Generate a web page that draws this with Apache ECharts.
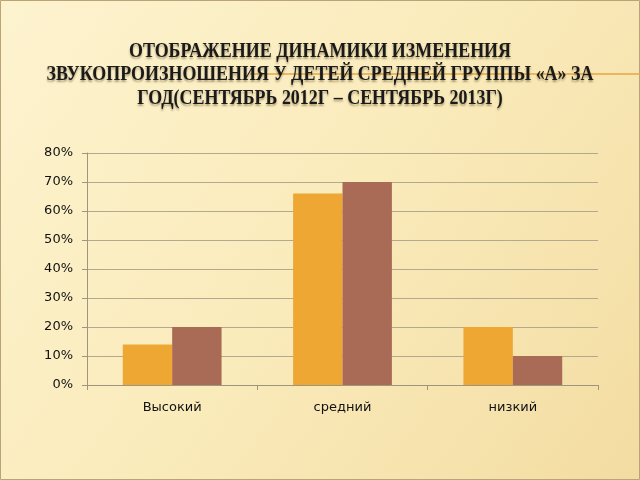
<!DOCTYPE html>
<html>
<head>
<meta charset="utf-8">
<script src="https://cdn.jsdelivr.net/npm/echarts@6/dist/echarts.min.js"></script>
<style>
html,body{margin:0;padding:0;}
#c{width:640px;height:480px;}
</style>
</head>
<body>
<div id="c"></div>
<script>
var titleLines = [
  'ОТОБРАЖЕНИЕ ДИНАМИКИ ИЗМЕНЕНИЯ',
  'ЗВУКОПРОИЗНОШЕНИЯ У ДЕТЕЙ СРЕДНЕЙ ГРУППЫ «А» ЗА',
  'ГОД(СЕНТЯБРЬ 2012Г – СЕНТЯБРЬ 2013Г)'
];
var categories = ['Высокий', 'средний', 'низкий'];
var series2012 = [14, 66, 20];
var series2013 = [20, 70, 10];
var yTicks = {min: 0, max: 80, interval: 10};

var chart = echarts.init(document.getElementById('c'));

var titleGraphics = titleLines.map(function (t, i) {
  return {
    type: 'text',
    x: 320,
    y: 51 + i * 23.5,
    scaleX: 0.835,
    z: 10,
    style: {
      text: t,
      fill: '#1a1a1a',
      font: 'bold 21.5px "Liberation Serif", "DejaVu Serif", serif',
      textAlign: 'center',
      textVerticalAlign: 'middle',
      textShadowColor: 'rgba(80,60,20,0.45)',
      textShadowBlur: 2,
      textShadowOffsetY: 2
    }
  };
});

chart.setOption({
  backgroundColor: new echarts.graphic.LinearGradient(0, 0, 1, 1, [
    {offset: 0, color: '#FDF3CF'},
    {offset: 0.5, color: '#FAEBBB'},
    {offset: 1, color: '#F3DCA2'}
  ]),
  graphic: [
    {
      type: 'line',
      z: 1,
      shape: {x1: 250, y1: 74, x2: 640, y2: 74},
      style: {stroke: '#E9A640', lineWidth: 1.5}
    },
    {
      type: 'rect',
      z: 0,
      shape: {x: 0.5, y: 0.5, width: 639, height: 479},
      style: {fill: 'none', stroke: '#B8A477', lineWidth: 1}
    }
  ].concat(titleGraphics),
  grid: {left: 87, right: 42, top: 153, bottom: 95},
  xAxis: {
    type: 'category',
    data: categories,
    axisLine: {lineStyle: {color: '#9E957E', width: 1}},
    axisTick: {show: true, length: 5, lineStyle: {color: '#9E957E'}},
    axisLabel: {
      color: '#111',
      fontFamily: '"DejaVu Sans", sans-serif',
      fontSize: 13,
      margin: 16
    }
  },
  yAxis: {
    type: 'value',
    min: yTicks.min,
    max: yTicks.max,
    interval: yTicks.interval,
    axisLine: {show: true, lineStyle: {color: '#9E957E', width: 1}},
    axisTick: {show: true, length: 5, lineStyle: {color: '#9E957E'}},
    splitLine: {lineStyle: {color: '#B3A98E', width: 1}},
    axisLabel: {
      formatter: '{value}%',
      color: '#111',
      fontFamily: '"DejaVu Sans", sans-serif',
      fontSize: 13,
      margin: 14
    }
  },
  series: [
    {
      name: '2012',
      type: 'bar',
      data: series2012,
      barGap: '0%',
      barCategoryGap: '42%',
      itemStyle: {color: '#EFA733'}
    },
    {
      name: '2013',
      type: 'bar',
      data: series2013,
      barGap: '0%',
      barCategoryGap: '42%',
      itemStyle: {color: '#A96A56'}
    }
  ]
});
</script>
</body>
</html>
